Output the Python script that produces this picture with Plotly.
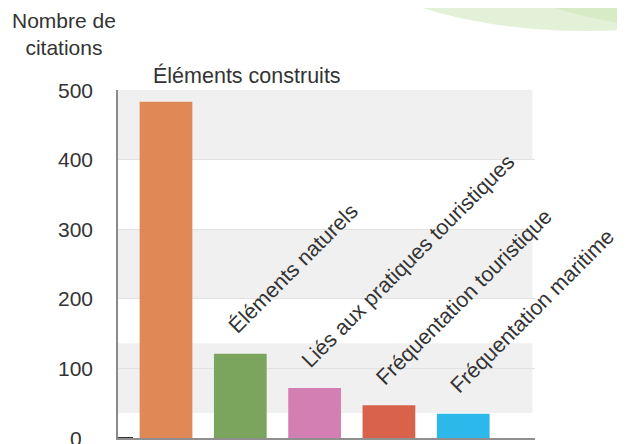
import plotly.graph_objects as go

# ---- data ----
categories = ["Éléments construits", "Éléments naturels", "Liés aux pratiques touristiques",
              "Fréquentation touristique", "Fréquentation maritime"]
values = [483, 121, 72, 47, 35]
bar_colors = ["#e08957", "#7ba55d", "#d47fb4", "#d9634a", "#2cb8ea"]
y_tick_values = [0, 100, 200, 300, 400, 500]
y_tick_labels = ["0", "100", "200", "300", "400", "500"]
bands = [(36, 136), (200, 300), (400, 500)]
y_title = "Nombre de<br>citations"

# page has an 8px body margin: figure drawn at (8, 8)
OFF = 8
W, H = 617, 436
ML, MR, MT, MB = 110, 90, 82, 6
FONT = "Liberation Sans, Arial, sans-serif"
TXT = "#333333"

def px_x(x):  # page pixel -> paper
    return (x - OFF - ML) / (W - ML - MR)

def px_y(y):
    return (H - MB - (y - OFF)) / (H - MT - MB)

fig = go.Figure()
fig.add_trace(go.Bar(
    x=categories, y=values, marker=dict(color=bar_colors, line=dict(width=0)),
    width=0.71, showlegend=False, hoverinfo="x+y"))

shapes = []
for lo, hi in bands:
    shapes.append(dict(type="rect", xref="x domain", yref="y", x0=0, x1=0.994, y0=lo, y1=hi,
                       fillcolor="#f0f0f0", line=dict(width=0), layer="below"))
# decorative green ellipse top-right
shapes.append(dict(type="circle", xref="paper", yref="paper",
                   x0=px_x(330), x1=px_x(840), y0=px_y(31), y1=px_y(-170),
                   fillcolor="#e3f1d8", line=dict(width=0), layer="below"))
shapes.append(dict(type="circle", xref="paper", yref="paper",
                   x0=px_x(470), x1=px_x(900), y0=px_y(27), y1=px_y(-160),
                   fillcolor="#cfe8bd", line=dict(width=0), layer="below", opacity=0.6))
# short dark mark at the origin
shapes.append(dict(type="line", xref="paper", yref="y", x0=0, x1=px_x(133), y0=0, y1=0,
                   line=dict(color="#333333", width=2), layer="above"))

annotations = []
for v, t in zip(y_tick_values, y_tick_labels):
    annotations.append(dict(x=px_x(75.5), xref="paper", y=v, yref="y", text=t, showarrow=False,
                            xanchor="center", yanchor="middle",
                            font=dict(family=FONT, size=21, color=TXT)))
annotations.append(dict(x=px_x(63.5), xref="paper", y=px_y(34), yref="paper", text=y_title,
                        showarrow=False, xanchor="center", yanchor="middle", align="center",
                        font=dict(family=FONT, size=21, color=TXT)))
for i, (c, v) in enumerate(zip(categories, values)):
    if i == 0:
        annotations.append(dict(x=c, y=v, xref="x", yref="y", text=c, showarrow=False,
                                xanchor="left", yanchor="bottom", xshift=-15, yshift=12,
                                font=dict(family=FONT, size=21.5, color=TXT)))
    else:
        annotations.append(dict(x=c, y=v, xref="x", yref="y", text=c, showarrow=False,
                                textangle=-45, xanchor="left", yanchor="bottom",
                                xshift=-20, yshift=13,
                                font=dict(family=FONT, size=21.5, color=TXT)))

fig.update_layout(
    width=W, height=H, margin=dict(l=ML, r=MR, t=MT, b=MB),
    paper_bgcolor="white", plot_bgcolor="rgba(0,0,0,0)",
    shapes=shapes, annotations=annotations,
    xaxis=dict(type="category", range=[-0.646, 4.966], showticklabels=False, ticks="",
               showgrid=False, zeroline=False, showline=True, linecolor="#8f8f8f", linewidth=2),
    yaxis=dict(range=[0, 500], tickvals=y_tick_values[1:], showticklabels=False, ticks="",
               showgrid=True, gridcolor="#e2e2e2", gridwidth=1, zeroline=False,
               showline=True, linecolor="#8a8a8a", linewidth=2),
    bargap=0.29,
)

fig.write_html("out.html")
